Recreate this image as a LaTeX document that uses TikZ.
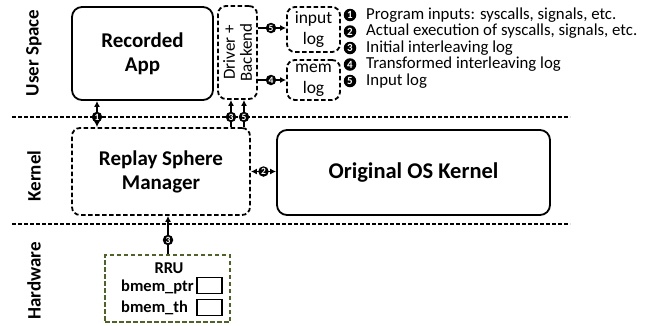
\documentclass[tikz,border=0pt]{standalone}
\usepackage{fontspec}
\setmainfont{Carlito}
\usetikzlibrary{arrows.meta}
\definecolor{olive}{RGB}{79,98,40}
\tikzset{
  solidbox/.style={draw, line width=1.8pt, rounded corners=10pt, inner sep=0pt},
  dashbox/.style={draw, line width=1.8pt, rounded corners=8pt, dash pattern=on 4.5pt off 2.5pt, inner sep=0pt},
  sepline/.style={line width=1.6pt, dash pattern=on 4pt off 2pt},
  conn/.style={line width=1.8pt, -{Latex[length=6pt,width=6pt]}},
  bconn/.style={line width=1.8pt, {Latex[length=6pt,width=6pt]}-{Latex[length=6pt,width=6pt]}},
  num/.style={circle, fill=black, text=white, inner sep=0pt, minimum size=10.5pt, font=\bfseries\fontsize{9.5}{9.5}\selectfont},
  lnum/.style={circle, fill=black, text=white, inner sep=0pt, minimum size=12.5pt, font=\bfseries\fontsize{11}{11}\selectfont},
  big/.style={font=\bfseries\fontsize{21}{24}\selectfont, align=center},
  side/.style={font=\bfseries\fontsize{19}{19}\selectfont, rotate=90},
  legend/.style={anchor=west, font=\fontsize{16.8}{16.8}\selectfont, inner sep=0pt},
  small/.style={font=\fontsize{17.5}{21}\selectfont, align=center},
  rrufont/.style={font=\bfseries\fontsize{16.5}{16.5}\selectfont, inner sep=0pt}
}
\begin{document}
\begin{tikzpicture}[x=1pt,y=-1pt]
\useasboundingbox (0,0) rectangle (647,325);
% separators
\draw[sepline] (12,117) -- (570,117);
\draw[sepline] (12,224) -- (570,224);
% side labels
\node[side] (us) at (34,53) {User Space};
\node[side] (kn) at (34,176) {Kernel};
\node[side] (hw) at (34,281) {Hardware};
% boxes
\node[solidbox, minimum width=141pt, minimum height=93pt, big] (app) at (142.5,53.5) {Recorded\\App};
\node[dashbox, minimum width=39pt, minimum height=93pt] (drv) at (237.5,52.5) {};
\node[font=\fontsize{17}{17}\selectfont, align=center, rotate=90, inner sep=0pt] (drvt) at (drv.center) {Driver +\\Backend};
\node[dashbox, minimum width=53pt, minimum height=45pt, small] (inlog) at (313.5,29.5) {input\\log};
\node[dashbox, minimum width=53pt, minimum height=40pt, small] (memlog) at (313.5,80) {mem\\log};
\node[dashbox, minimum width=178pt, minimum height=87pt, big] (rsm) at (161,171.5) {Replay Sphere\\Manager};
\node[solidbox, minimum width=273pt, minimum height=85pt, big, font=\bfseries\fontsize{22.5}{24}\selectfont] (os) at (413.5,172.5) {Original OS Kernel};
\node[dashbox, draw=olive, rounded corners=0pt, minimum width=125pt, minimum height=67pt] (rru) at (167.5,288.5) {};
\node[rrufont] (rrut) at (169,268.5) {RRU};
\node[draw, line width=1.6pt, minimum width=25pt, minimum height=16pt, inner sep=0pt] (ptrbox) at (209.5,285.5) {};
\node[draw, line width=1.6pt, minimum width=25pt, minimum height=16pt, inner sep=0pt] (thbox) at (209.5,307.5) {};
\node[rrufont, anchor=west] (ptr) at (121,287) {bmem\_ptr};
\node[rrufont, anchor=west] (th) at (121,308) {bmem\_th};
% connector coordinates
\coordinate (c1) at (97,117);
\coordinate (c3) at (231,117);
\coordinate (c5) at (244,117);
\coordinate (c5b) at (271,28);
\coordinate (c4) at (271,80);
\coordinate (c3b) at (168,240);
% connectors
\draw[bconn] (app.south -| c1) -- (rsm.north -| c1);
\node[num] at (c1) {1};
\draw[conn] (rsm.north -| c3) -- (drv.south -| c3);
\node[num] at (c3) {3};
\draw[conn] (rsm.north -| c5) -- (drv.south -| c5);
\node[num] at (c5) {5};
\draw[conn] (drv.east |- c5b) -- (inlog.west |- c5b);
\node[num] at (c5b) {5};
\draw[conn] (drv.east |- c4) -- (memlog.west |- c4);
\node[num] at (c4) {4};
\draw[bconn] (rsm.east) -- (rsm.east -| os.west) node[num, midway] {2};
\draw[conn] (rru.north -| c3b) -- (rsm.south -| c3b);
\node[num] at (c3b) {3};
% legend
\node[lnum] (l1) at (350,15) {1};
\node[legend] (t1) at (366,15) {Program inputs: syscalls, signals, etc.};
\node[lnum] (l2) at (350,31.5) {2};
\node[legend] (t2) at (366,31.5) {Actual execution of syscalls, signals, etc.};
\node[lnum] (l3) at (350,48) {3};
\node[legend] (t3) at (366,48) {Initial interleaving log};
\node[lnum] (l4) at (350,64.5) {4};
\node[legend] (t4) at (366,64.5) {Transformed interleaving log};
\node[lnum] (l5) at (350,81) {5};
\node[legend] (t5) at (366,81) {Input log};
\end{tikzpicture}
\end{document}
